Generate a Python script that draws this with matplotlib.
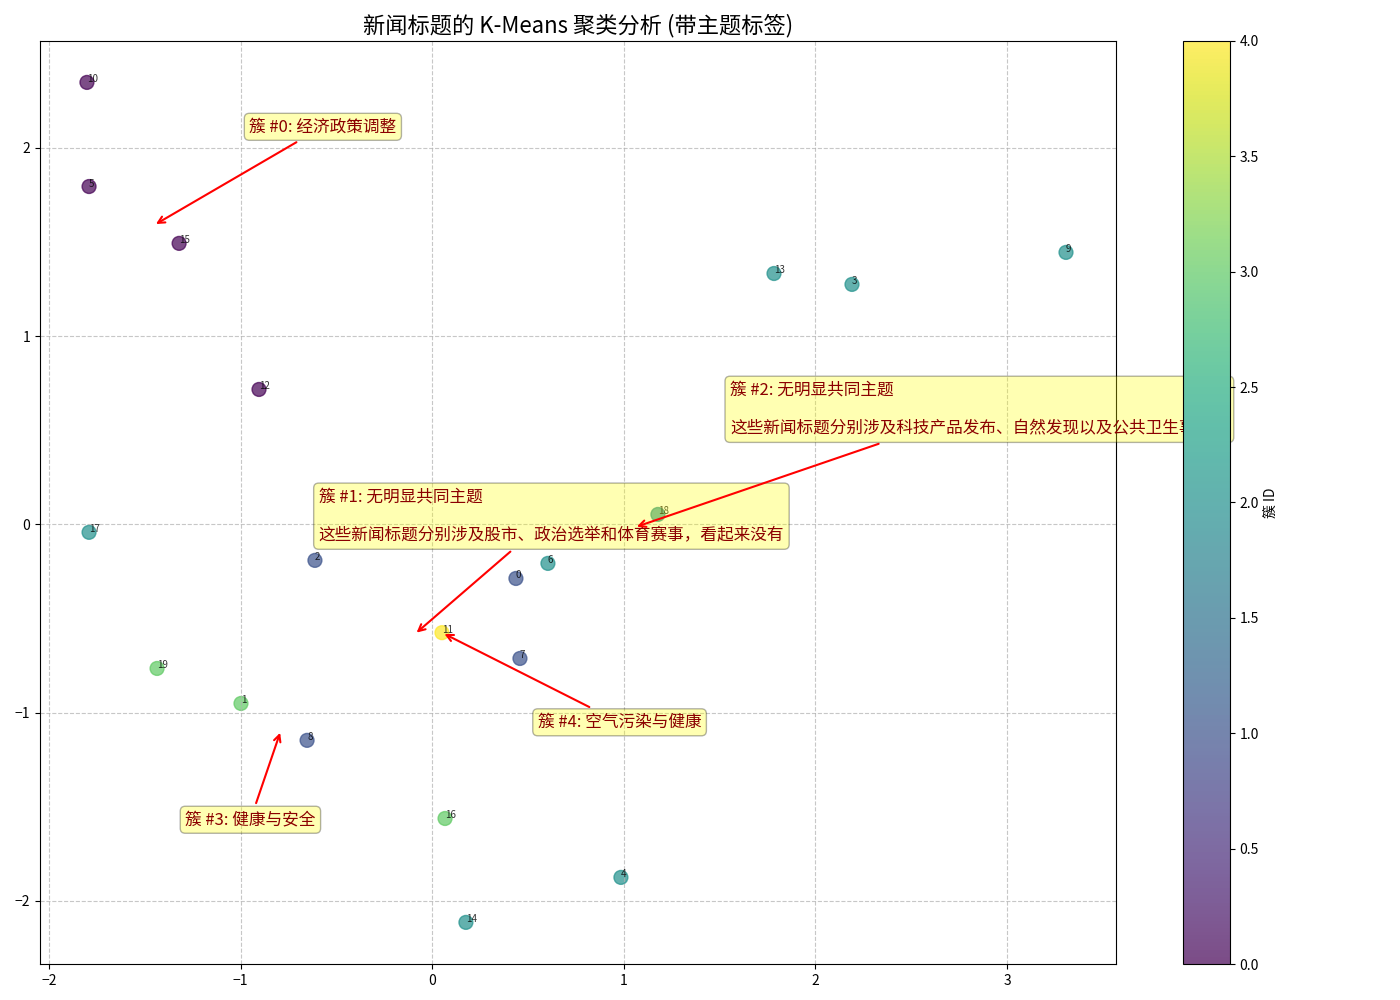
import matplotlib
matplotlib.use('Agg')
import matplotlib.pyplot as plt
import numpy as np

plt.rcParams['font.family'] = ['Noto Sans CJK SC', 'DejaVu Sans']

# 二维投影后的新闻标题坐标 (索引 0..19)
point_x = [0.437, -0.998, -0.612, 2.191, 0.985, -1.791, 0.604, 0.458, -0.653, 3.308,
           -1.802, 0.051, -0.904, 1.784, 0.176, -1.321, 0.067, -1.791, 1.178, -1.436]
point_y = [-0.287, -0.951, -0.191, 1.275, -1.875, 1.795, -0.207, -0.712, -1.147, 1.445,
           2.348, -0.575, 0.717, 1.333, -2.114, 1.493, -1.562, -0.042, 0.053, -0.765]
cluster_labels = [1, 3, 1, 2, 2, 0, 2, 1, 1, 2,
                  0, 4, 0, 2, 2, 0, 3, 2, 2, 3]

cluster_themes = ['经济政策调整', '无明显共同主题', '无明显共同主题', '健康与安全', '空气污染与健康']
cluster_descs = ['',
                 '这些新闻标题分别涉及股市、政治选举和体育赛事，看起来没有',
                 '这些新闻标题分别涉及科技产品发布、自然发现以及公共卫生事件，',
                 '',
                 '']
# 标签相对簇中心的偏移方向
label_dirs = [(1, 1), (-1, 1), (1, 1), (-1, -1), (1, -1)]


def main():
    x = np.array(point_x)
    y = np.array(point_y)
    labels = np.array(cluster_labels)

    fig = plt.figure(figsize=(14, 10), dpi=100)
    ax = fig.add_axes([40 / 1400, 0.036, 1076 / 1400, 0.923])
    cax = fig.add_axes([1183 / 1400, 0.036, 47 / 1400, 0.923])

    sc = ax.scatter(x, y, c=labels, cmap='viridis', s=100, alpha=0.7, vmin=0, vmax=4)
    for i in range(len(x)):
        ax.text(x[i], y[i], str(i), fontsize=7, alpha=0.8)

    for k in range(len(cluster_themes)):
        cx = x[labels == k].mean()
        cy = y[labels == k].mean()
        text = f'簇 #{k}: {cluster_themes[k]}'
        if cluster_descs[k]:
            text += '\n\n' + cluster_descs[k]
        dx, dy = label_dirs[k]
        ax.annotate(text, xy=(cx, cy), xytext=(cx + 0.5 * dx, cy + 0.5 * dy),
                    fontsize=12, color='darkred',
                    bbox=dict(boxstyle='round,pad=0.3', fc='yellow', alpha=0.3),
                    arrowprops=dict(arrowstyle='->', color='red', lw=1.5))

    ax.set_xlim(-2.047, 3.569)
    ax.set_ylim(-2.335, 2.568)
    ax.set_title('新闻标题的 K-Means 聚类分析 (带主题标签)', fontsize=16)
    ax.grid(True, linestyle='--', alpha=0.7)

    cb = fig.colorbar(sc, cax=cax)
    cb.set_label('簇 ID')

    fig.savefig('out.png', dpi=100)


if __name__ == '__main__':
    main()
